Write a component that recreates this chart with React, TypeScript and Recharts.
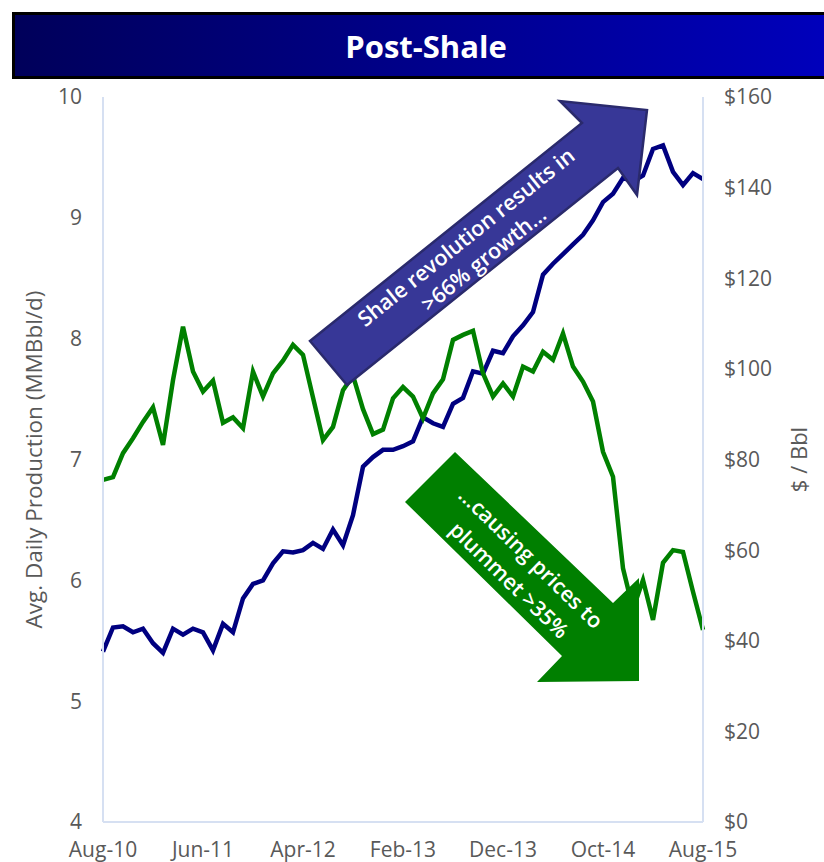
import { Label, Line, LineChart, XAxis, YAxis } from "recharts";

const months = [
  "Aug-10", "Sep-10", "Oct-10", "Nov-10", "Dec-10",
  "Jan-11", "Feb-11", "Mar-11", "Apr-11", "May-11", "Jun-11", "Jul-11", "Aug-11", "Sep-11", "Oct-11", "Nov-11", "Dec-11",
  "Jan-12", "Feb-12", "Mar-12", "Apr-12", "May-12", "Jun-12", "Jul-12", "Aug-12", "Sep-12", "Oct-12", "Nov-12", "Dec-12",
  "Jan-13", "Feb-13", "Mar-13", "Apr-13", "May-13", "Jun-13", "Jul-13", "Aug-13", "Sep-13", "Oct-13", "Nov-13", "Dec-13",
  "Jan-14", "Feb-14", "Mar-14", "Apr-14", "May-14", "Jun-14", "Jul-14", "Aug-14", "Sep-14", "Oct-14", "Nov-14", "Dec-14",
  "Jan-15", "Feb-15", "Mar-15", "Apr-15", "May-15", "Jun-15", "Jul-15", "Aug-15",
];

// US crude production, MMBbl/d (left axis)
const production = [
  5.41, 5.61, 5.62, 5.57, 5.6, 5.48, 5.4, 5.6, 5.55, 5.6,
  5.57, 5.42, 5.64, 5.57, 5.85, 5.97, 6.0, 6.14, 6.24, 6.23,
  6.25, 6.31, 6.26, 6.42, 6.29, 6.54, 6.94, 7.02, 7.08, 7.08,
  7.11, 7.15, 7.35, 7.3, 7.27, 7.46, 7.51, 7.73, 7.71, 7.9,
  7.88, 8.02, 8.11, 8.22, 8.53, 8.62, 8.7, 8.78, 8.86, 8.98,
  9.13, 9.2, 9.33, 9.3, 9.35, 9.57, 9.6, 9.38, 9.27, 9.37,
  9.32,
];

// oil price, $/Bbl (right axis)
const price = [
  75.5, 76.1, 81.4, 84.7, 88.3, 91.5, 83.2, 97.5, 109.3, 99.4,
  95.0, 97.4, 88.1, 89.3, 86.9, 99.4, 93.9, 99.0, 101.8, 105.3,
  103.1, 93.7, 84.3, 87.2, 95.3, 98.5, 91.1, 85.6, 86.6, 93.5,
  96.0, 93.9, 89.1, 94.6, 97.7, 106.4, 107.5, 108.4, 99.0, 93.9,
  96.8, 93.9, 100.5, 99.4, 103.8, 102.0, 107.8, 100.5, 97.2, 92.8,
  81.7, 76.2, 56.0, 47.0, 53.4, 44.6, 57.2, 60.0, 59.6, 50.8,
  42.4,
];

const leftTicks = [4, 5, 6, 7, 8, 9, 10];
const rightTicks = [0, 20, 40, 60, 80, 100, 120, 140, 160];

const data = months.map((m, i) => ({ month: m, production: production[i], price: price[i] }));

const gray = "#595959";
const axisBlue = "#d6e0f2";
const font = '"Open Sans", sans-serif';

export default function App() {
  return (
    <div
      style={{
        position: "absolute",
        left: 0,
        top: 0,
        width: 824,
        height: 862,
        overflow: "hidden",
        background: "#fff",
        fontFamily: font,
      }}
    >
      <LineChart width={824} height={862} data={data} margin={{ top: 97, right: 0, bottom: 0, left: 0 }}>
        <XAxis
          dataKey="month"
          interval={9}
          height={40}
          tickLine={false}
          tickSize={0}
          tickMargin={20}
          axisLine={{ stroke: axisBlue, strokeWidth: 2 }}
          tick={{ fill: gray, fontSize: 21 }}
        />
        <YAxis
          yAxisId="left"
          domain={[4, 10]}
          ticks={leftTicks}
          width={103}
          tickLine={false}
          tickSize={0}
          tickMargin={21}
          axisLine={{ stroke: axisBlue, strokeWidth: 2 }}
          tick={{ fill: gray, fontSize: 21 }}
        >
          <Label value="Avg. Daily Production (MMBbl/d)" angle={-90} position="center" dx={-17} fill={gray} fontSize={22.5} />
        </YAxis>
        <YAxis
          yAxisId="right"
          orientation="right"
          domain={[0, 160]}
          ticks={rightTicks}
          width={121}
          tickLine={false}
          tickSize={0}
          tickMargin={21}
          tickFormatter={(v) => `$${v}`}
          axisLine={{ stroke: axisBlue, strokeWidth: 2 }}
          tick={{ fill: gray, fontSize: 21 }}
        >
          <Label value="$ / Bbl" angle={-90} position="center" dx={36} fill={gray} fontSize={22} />
        </YAxis>
        <Line yAxisId="left" dataKey="production" stroke="#000080" strokeWidth={4.5} dot={false} isAnimationActive={false} />
        <Line yAxisId="right" dataKey="price" stroke="#008000" strokeWidth={4.5} dot={false} isAnimationActive={false} />
      </LineChart>

      {/* title bar */}
      <div
        style={{
          position: "absolute",
          left: 12,
          top: 12,
          width: 828,
          height: 67,
          boxSizing: "border-box",
          border: "3px solid #000",
          background: "linear-gradient(to right, #00005a, #0000bd)",
          color: "#fff",
          fontWeight: 700,
          fontSize: 31,
          display: "flex",
          alignItems: "center",
          justifyContent: "center",
        }}
      >
        Post-Shale
      </div>

      {/* annotation arrows */}
      <svg width={824} height={862} style={{ position: "absolute", left: 0, top: 0, pointerEvents: "none" }}>
        <polygon
          points="310,341 582,123 560,101 647,110 637,195 618,168 347,385"
          fill="#373797"
          stroke="#2a2a6c"
          strokeWidth={2.5}
        />
        <g transform="rotate(-38.7 474 247)" fill="#fff" fontWeight={600} fontSize={21.5} textAnchor="middle">
          <text x={474} y={247} dy={-5}>Shale revolution results in</text>
          <text x={474} y={247} dy={23}>&gt;66% growth…</text>
        </g>

        <polygon
          points="455,452 613,603 639,578 639,681 537,682 562,656 405,502"
          fill="#007f00"
        />
        <g transform="rotate(44.2 522 567)" fill="#fff" fontWeight={600} fontSize={21.5} textAnchor="middle">
          <text x={522} y={567} dy={-5}>…causing prices to</text>
          <text x={522} y={567} dy={26}>plummet &gt;35%</text>
        </g>
      </svg>
    </div>
  );
}
